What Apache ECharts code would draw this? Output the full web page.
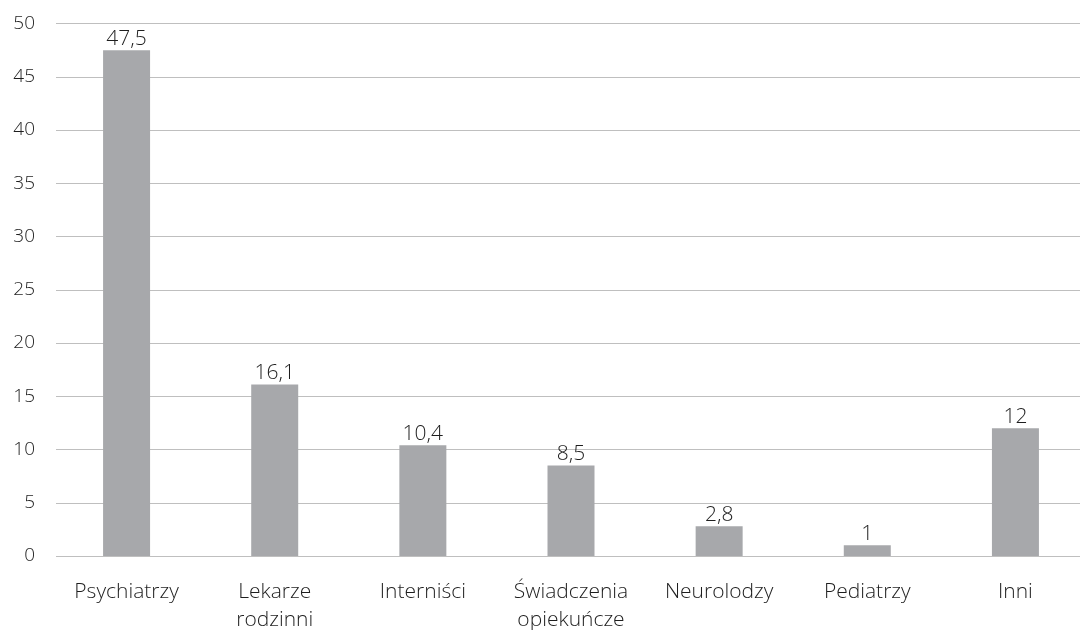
<!DOCTYPE html>
<html>
<head>
<meta charset="utf-8">
<script src="https://cdn.jsdelivr.net/npm/echarts@6/dist/echarts.min.js"></script>
<style>
  html, body { margin: 0; padding: 0; background: #fff; }
  #chart { width: 1080px; height: 630px; }
</style>
</head>
<body>
<div id="chart"></div>
<script>
const categories = ['Psychiatrzy', 'Lekarze\nrodzinni', 'Interniści', 'Świadczenia\nopiekuńcze', 'Neurolodzy', 'Pediatrzy', 'Inni'];
const values = [47.5, 16.1, 10.4, 8.5, 2.8, 1, 12];
const yTicks = [0, 5, 10, 15, 20, 25, 30, 35, 40, 45, 50];

const fontFamily = '"Open Sans", "Noto Sans", sans-serif';
const textColor = '#1e1e1e';
const yMin = yTicks[0], yMax = yTicks[yTicks.length - 1], yStep = yTicks[1] - yTicks[0];

const chart = echarts.init(document.getElementById('chart'));
chart.setOption({
  animation: false,
  // grid 0 carries the value axis and gridlines, grid 1 the category bands and bars
  grid: [
    { left: 56, right: 0, top: 23.5, bottom: 74, outerBoundsMode: 'none', containLabel: false },
    { left: 52.5, right: -9.5, top: 23.5, bottom: 74, outerBoundsMode: 'none', containLabel: false }
  ],
  xAxis: [
    { gridIndex: 0, type: 'value', show: false },
    {
      gridIndex: 1,
      type: 'category',
      data: categories,
      axisLine: { show: false },
      axisTick: { show: false },
      axisLabel: {
        color: textColor, fontFamily, fontWeight: 300, fontSize: 21,
        lineHeight: 28, margin: 22, interval: 0
      }
    }
  ],
  yAxis: [
    {
      gridIndex: 0,
      type: 'value',
      min: yMin, max: yMax, interval: yStep,
      axisLine: { show: false },
      axisTick: { show: false },
      splitLine: { lineStyle: { color: '#bfbfbf', width: 1 } },
      axisLabel: {
        color: textColor, fontFamily, fontWeight: 300, fontSize: 19, margin: 21
      }
    },
    {
      gridIndex: 1,
      type: 'value',
      min: yMin, max: yMax, interval: yStep,
      show: false,
      splitLine: { show: false }
    }
  ],
  series: [{
    type: 'bar',
    xAxisIndex: 1,
    yAxisIndex: 1,
    data: values,
    barWidth: 47,
    itemStyle: { color: '#a7a8ab' },
    label: {
      show: true, position: 'top', distance: 1,
      color: textColor, fontFamily, fontWeight: 300, fontSize: 21,
      formatter: p => String(p.value).replace('.', ',')
    }
  }]
});
</script>
</body>
</html>
